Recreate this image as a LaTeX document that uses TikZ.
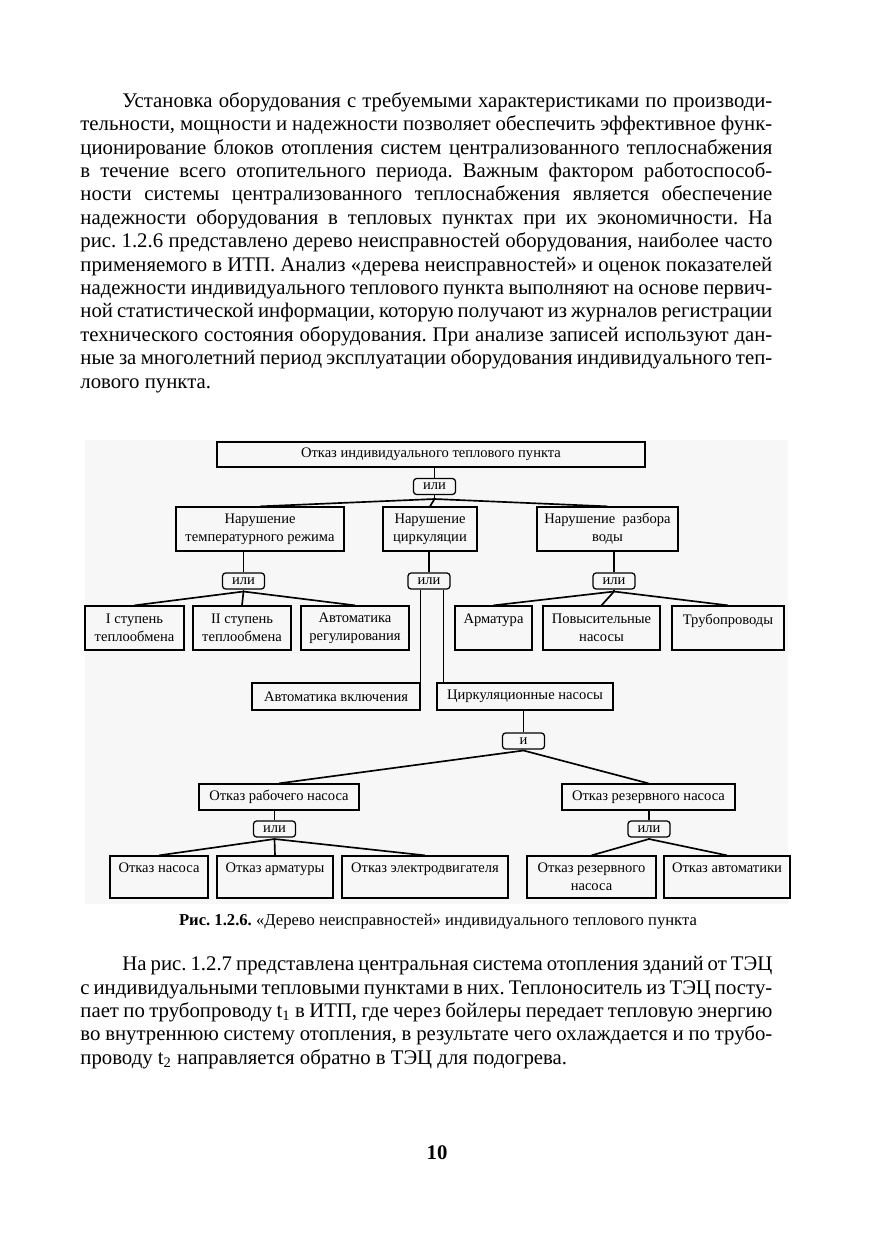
\documentclass[tikz,border=0pt]{standalone}
\usepackage{fontspec}
\setmainfont{Liberation Serif}
\usetikzlibrary{positioning}
\frenchspacing

\begin{document}
\begin{tikzpicture}[x=0.16914mm, y=-0.16914mm,
  box/.style 2 args={draw, line width=0.6pt, inner sep=0pt, align=center,
    font=\fontsize{7}{8.7}\selectfont,
    minimum width=#1*0.16914mm, minimum height=#2*0.16914mm},
  gate/.style={draw, line width=0.6pt, rounded corners=1.5pt, inner sep=0pt,
    font=\fontsize{7}{8.7}\selectfont,
    minimum width=42*0.16914mm, minimum height=16*0.16914mm},
  link/.style={line width=0.8pt},
  para/.style={inner sep=0pt, text width=333pt, align=justify,
    font=\fontsize{10}{11.26}\selectfont}]
\useasboundingbox (0,0) rectangle (875,1241);
\fill[white] (0,0) rectangle (875,1241);

% text above the figure
\node[para, anchor=north west] (p1) at (80,92) {\hspace*{20.2pt}Установка оборудования с требуемыми характеристиками по производи-\linebreak
тельности, мощности и надежности позволяет обеспечить эффективное функ-\linebreak
ционирование блоков отопления систем централизованного теплоснабжения\linebreak
в течение всего отопительного периода. Важным фактором работоспособ-\linebreak
ности системы централизованного теплоснабжения является обеспечение\linebreak
надежности оборудования в тепловых пунктах при их экономичности. На\linebreak
рис. 1.2.6 представлено дерево неисправностей оборудования, наиболее часто\linebreak
применяемого в ИТП. Анализ «дерева неисправностей» и оценок показателей\linebreak
надежности индивидуального теплового пункта выполняют на основе первич-\linebreak
ной статистической информации, которую получают из журналов регистрации\linebreak
технического состояния оборудования. При анализе записей используют дан-\linebreak
ные за многолетний период эксплуатации оборудования индивидуального теп-\linebreak
лового пункта.};

% figure
\fill[black!3] (85,440) rectangle (788,904);

\node[box={428}{25}] (top) at (431,454.5) {Отказ индивидуального теплового пункта};
\node[gate] (g0) at (434.5,486.5) {или};

\node[box={168}{44}] (v1) at (260,529) {Нарушение\\температурного режима};
\node[box={94}{44}] (v2) at (430,529) {Нарушение\\циркуляции};
\node[box={141}{44}] (v3) at (607.5,529) {Нарушение\ \ разбора\\воды};

\node[gate] (g1) at (243.5,581) {или};
\node[gate] (g2) at (429,581) {или};
\node[gate] (g3) at (614,581) {или};

\node[box={99}{44}] (s1) at (134.5,628) {I ступень\\теплообмена};
\node[box={98}{44}] (s2) at (242,628) {II ступень\\теплообмена};
\node[box={108}{44}] (s3) at (355,628) {Автоматика\\регулирования};
\node[box={77}{44}] (w1) at (493.5,628) {Арматура\\\mbox{}};
\node[box={117}{44}] (w2) at (601.5,628) {Повысительные\\насосы};
\node[box={112}{44}] (w3) at (728,628) {Трубопроводы\\\mbox{}};

\node[box={168}{27}] (ak) at (336,696.5) {Автоматика включения};
\node[box={176}{27}] (cn) at (525,696.5) {Циркуляционные насосы};
\node[gate] (gi) at (523.5,741) {и};

\node[box={160}{26}] (r1) at (279,797) {Отказ рабочего насоса};
\node[box={173}{26}] (r2) at (648.5,797) {Отказ резервного насоса};
\node[gate] (g4) at (274.5,829) {или};
\node[gate] (g5) at (649,829) {или};

\node[box={98}{42}] (f1) at (159,877) {Отказ насоса\\\mbox{}};
\node[box={116}{42}] (f2) at (275,877) {Отказ арматуры\\\mbox{}};
\node[box={166}{42}] (f3) at (425,877) {Отказ электродвигателя\\\mbox{}};
\node[box={129}{42}] (f4) at (591.5,877) {Отказ резервного\\насоса};
\node[box={126}{42}] (f5) at (727,877) {Отказ автоматики\\\mbox{}};

% connectors
\coordinate (j0) at (434.5,499);
\coordinate (j1) at (243.5,591.5);
\coordinate (j3) at (614,591.5);
\coordinate (ji) at (523.5,750.5);
\coordinate (j4) at (274.5,839);
\coordinate (j5) at (649,839);
\coordinate (k2) at ([xshift=1.18mm]cn.north west);

\draw[link] (top.south -| g0.north) -- (g0.north);
\draw[link] (g0.south) -- (j0);
\foreach \n in {v1,v2,v3} \draw[link] (j0) -- (\n.north);

\draw[link] (v1.south -| g1.north) -- (g1.north);
\draw[link] (v2.south -| g2.north) -- (g2.north);
\draw[link] (v3.south -| g3.north) -- (g3.north);

\draw[link] (g1.south) -- (j1);
\foreach \n in {s1,s2,s3} \draw[link] (j1) -- (\n.north);
\draw[link] (g3.south) -- (j3);
\foreach \n in {w1,w2,w3} \draw[link] (j3) -- (\n.north);

\draw[link] (g2.south -| ak.north east) -- (ak.north east);
\draw[link] (g2.south -| k2) -- (k2);

\draw[link] (cn.south -| gi.north) -- (gi.north);
\draw[link] (gi.south) -- (ji);
\foreach \n in {r1,r2} \draw[link] (ji) -- (\n.north);

\draw[link] (r1.south -| g4.north) -- (g4.north);
\draw[link] (r2.south -| g5.north) -- (g5.north);
\draw[link] (g4.south) -- (j4);
\foreach \n in {f1,f2,f3} \draw[link] (j4) -- (\n.north);
\draw[link] (g5.south) -- (j5);
\foreach \n in {f4,f5} \draw[link] (j5) -- (\n.north);

\node[font=\fontsize{8}{9.6}\selectfont] (cap) at (438,922) {\textbf{Рис. 1.2.6.} «Дерево неисправностей» индивидуального теплового пункта};

% text below the figure
\node[para, anchor=north west] (p2) at (80,956) {\hspace*{20.2pt}На рис. 1.2.7 представлена центральная система отопления зданий от ТЭЦ\linebreak
с индивидуальными тепловыми пунктами в них. Теплоноситель из ТЭЦ посту-\linebreak
пает по трубопроводу t\textsubscript{1} в ИТП, где через бойлеры передает тепловую энергию\linebreak
во внутреннюю систему отопления, в результате чего охлаждается и по трубо-\linebreak
проводу t\textsubscript{2} направляется обратно в ТЭЦ для подогрева.};

\node[font=\fontsize{10}{12}\selectfont\bfseries] (pg) at (437,1153) {10};
\end{tikzpicture}
\end{document}
